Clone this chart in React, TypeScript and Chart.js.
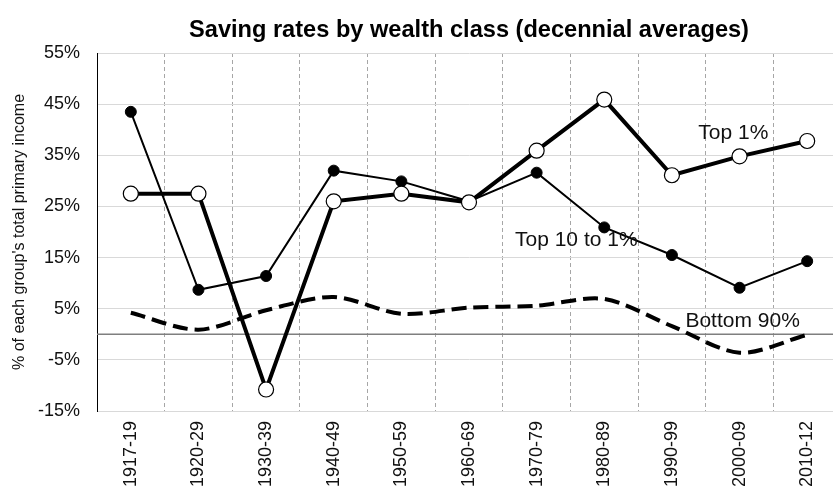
import React, { useEffect, useRef } from 'react';
import { Chart, registerables } from 'chart.js';

Chart.register(...registerables);

const categories = ['1917-19', '1920-29', '1930-39', '1940-49', '1950-59', '1960-69', '1970-79', '1980-89', '1990-99', '2000-09', '2010-12'];
const top1 = [27.5, 27.5, -10.8, 26.0, 27.5, 25.8, 35.9, 45.9, 31.1, 34.8, 37.8];
const top10to1 = [43.5, 8.7, 11.4, 32.0, 29.9, 26.0, 31.6, 20.9, 15.5, 9.1, 14.3];
const bottom90 = [4.2, 0.9, 4.7, 7.3, 4.0, 5.2, 5.6, 6.9, 1.6, -3.6, -0.1];
const yTicks = [-15, -5, 5, 15, 25, 35, 45, 55];

const seriesLabels = ['Top 1%', 'Top 10 to 1%', 'Bottom 90%'];
const titleText = 'Saving rates by wealth class (decennial averages)';
const yTitle = "% of each group's total primary income";

// in-chart series labels, anchored in data space (fractional category index, value)
const annotations = [
  { text: 'Top 1%', index: 8.39, value: 38.1 },
  { text: 'Top 10 to 1%', index: 5.68, value: 17.2 },
  { text: 'Bottom 90%', index: 8.2, value: 1.5 },
];

const FONT = '"Liberation Sans", Arial, Helvetica, sans-serif';

const zeroLinePlugin = {
  id: 'zeroLine',
  beforeDatasetsDraw(chart: any) {
    const { ctx, chartArea, scales } = chart;
    const y = scales.y.getPixelForValue(0);
    ctx.save();
    ctx.strokeStyle = '#7f7f7f';
    ctx.lineWidth = 1.5;
    ctx.beginPath();
    ctx.moveTo(chartArea.left, y);
    ctx.lineTo(chartArea.right, y);
    ctx.stroke();
    ctx.restore();
  },
};

const labelPlugin = {
  id: 'seriesText',
  afterDatasetsDraw(chart: any) {
    const { ctx, scales } = chart;
    ctx.save();
    ctx.font = `21px ${FONT}`;
    ctx.fillStyle = '#111';
    ctx.textAlign = 'left';
    ctx.textBaseline = 'alphabetic';
    annotations.forEach((a) => {
      ctx.fillText(a.text, scales.x.getPixelForValue(a.index), scales.y.getPixelForValue(a.value));
    });
    ctx.restore();
  },
};

export default function App() {
  const ref = useRef<HTMLCanvasElement | null>(null);

  useEffect(() => {
    if (!ref.current) return;
    const chart = new Chart(ref.current, {
      type: 'line',
      data: {
        labels: categories,
        datasets: [
          {
            label: seriesLabels[0],
            data: top1,
            borderColor: '#000',
            borderWidth: 4,
            pointRadius: 7.5,
            pointBackgroundColor: '#fff',
            pointBorderColor: '#000',
            pointBorderWidth: 1.2,
            tension: 0,
          },
          {
            label: seriesLabels[1],
            data: top10to1,
            borderColor: '#000',
            borderWidth: 2,
            pointRadius: 5.5,
            pointBackgroundColor: '#000',
            pointBorderColor: '#000',
            pointBorderWidth: 1,
            tension: 0,
          },
          {
            label: seriesLabels[2],
            data: bottom90,
            borderColor: '#000',
            borderWidth: 4,
            borderDash: [15, 7],
            pointRadius: 0,
            tension: 0.3,
          },
        ],
      },
      plugins: [zeroLinePlugin, labelPlugin],
      options: {
        responsive: false,
        animation: false,
        events: [],
        layout: { autoPadding: false, padding: { left: 0, right: 0, top: 0, bottom: 0 } },
        plugins: {
          legend: { display: false },
          tooltip: { enabled: false },
          title: {
            display: true,
            text: titleText,
            fullSize: false,
            color: '#000',
            font: { family: FONT, size: 23.6, weight: 'bold' },
            padding: { top: 16, bottom: 8.7 },
          },
        },
        scales: {
          x: {
            type: 'category',
            offset: true,
            grid: { display: true, offset: true, color: '#a6a6a6', lineWidth: 1, drawTicks: false },
            border: { display: true, color: '#d9d9d9', width: 1, dash: [4, 3] },
            ticks: {
              autoSkip: false,
              minRotation: 90,
              maxRotation: 90,
              padding: 10,
              color: '#111',
              font: { family: FONT, size: 18 },
            },
            afterFit: (s: any) => {
              s.height = 78;
              s.paddingLeft = 0;
              s.paddingRight = 0;
            },
          },
          y: {
            min: yTicks[0],
            max: yTicks[yTicks.length - 1],
            afterBuildTicks: (s: any) => {
              s.ticks = yTicks.map((v) => ({ value: v }));
            },
            grid: { color: '#d9d9d9', lineWidth: 1, drawTicks: false },
            border: { display: true, color: '#000', width: 1 },
            ticks: {
              padding: 17,
              color: '#111',
              font: { family: FONT, size: 18 },
              callback: (v: any) => `${v}%`,
            },
            title: {
              display: true,
              text: yTitle,
              color: '#111',
              font: { family: FONT, size: 16 },
              padding: { top: 10, bottom: 0 },
            },
            afterFit: (s: any) => {
              s.width = 97;
              s.paddingTop = 0;
              s.paddingBottom = 0;
            },
          },
        },
      },
    } as any);
    return () => chart.destroy();
  }, []);

  return (
    <div style={{ position: 'fixed', left: 0, top: 0, width: 833, height: 489, overflow: 'hidden', background: '#fff' }}>
      <canvas ref={ref} width={841} height={489} style={{ display: 'block' }} />
    </div>
  );
}
